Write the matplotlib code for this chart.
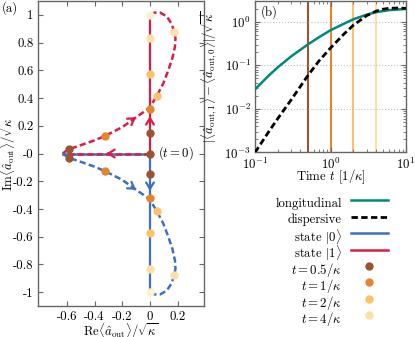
import numpy as np
import matplotlib
matplotlib.use('Agg')
import matplotlib.pyplot as plt
from matplotlib.lines import Line2D
from matplotlib.ticker import FuncFormatter

plt.rcParams['font.family'] = 'serif'
plt.rcParams['font.serif'] = ['cmr10']
plt.rcParams['mathtext.fontset'] = 'cm'
plt.rcParams['axes.unicode_minus'] = False
plt.rcParams['axes.formatter.use_mathtext'] = True
plt.rcParams['font.size'] = 9.2

# ---- (a) output field in the complex plane, state |1> (state |0> is mirrored)
long_im = [0.0, 0.15, 0.32, 0.57, 0.83, 1.0]
jump_re = [0.0, -0.63]
disp_re = [-0.63, -0.61, -0.584, -0.5, -0.4, -0.325, -0.2, -0.1, -0.03, 0.0, 0.048,
           0.096, 0.132, 0.161, 0.18, 0.184, 0.175, 0.156, 0.12, 0.072, 0.031, 0.0]
disp_im = [0.0, 0.015, 0.031, 0.06, 0.095, 0.127, 0.19, 0.262, 0.31, 0.335, 0.413,
           0.505, 0.6, 0.685, 0.77, 0.83, 0.877, 0.937, 0.99, 1.017, 1.016, 1.0]

# snapshots t = 0.5, 1, 2, 4 (in 1/kappa)
t_snap = [0.5, 1, 2, 4]
snap_colors = ['#9a5430', '#e5852e', '#fdc266', '#fee0a6']
end_color = '#fff0cb'
long_snap = [0.15, 0.32, 0.57, 0.83]
disp_snap_re = [-0.584, -0.325, 0.048, 0.175]
disp_snap_im = [0.031, 0.127, 0.413, 0.877]

# ---- (b) separation of the two pointer states vs time
t_long = [0.1, 0.15, 0.2, 0.3, 0.5, 0.7, 1, 1.5, 2, 3, 4, 6, 10]
sep_long = [0.028, 0.057, 0.09, 0.16, 0.30, 0.44, 0.64, 0.9, 1.14, 1.45, 1.66, 1.85, 1.97]
t_disp = [0.1, 0.15, 0.2, 0.3, 0.5, 0.7, 1, 1.5, 2, 3, 4, 5, 6, 8, 10]
sep_disp = [0.001, 0.0029, 0.006, 0.016, 0.058, 0.125, 0.25, 0.52, 0.83, 1.38, 1.75,
            1.95, 2.04, 2.07, 2.03]

teal = '#00897b'
blue = '#3f6fbe'
red = '#d91c4a'
spine_c = '0.4'

W, H = 415, 337
fig = plt.figure(figsize=(W / 100, H / 100), dpi=100)
ax = fig.add_axes([0.0923, 0.092, 0.3993, 0.905])
axb = fig.add_axes([0.6145, 0.5475, 0.3639, 0.4496])

dash = (2.5, 1.3)
disp_re = np.array(disp_re)
disp_im = np.array(disp_im)
long_im = np.array(long_im)

# common jump along the real axis
ax.plot(jump_re, [0, 0], color=blue, lw=1.8, zorder=2)
ax.plot(jump_re, [0, 0], color=red, lw=1.8, dashes=dash, zorder=2)
# longitudinal
ax.plot(np.zeros_like(long_im), long_im, color=red, lw=1.6, zorder=2)
ax.plot(np.zeros_like(long_im), -long_im, color=blue, lw=1.6, zorder=2)
# dispersive
ax.plot(disp_re, disp_im, color=red, lw=1.8, dashes=dash, zorder=2)
ax.plot(disp_re, -disp_im, color=blue, lw=1.8, dashes=dash, zorder=2)


def arrow(x, y, dx, dy, c):
    n = np.hypot(dx, dy)
    ax.annotate('', xy=(x, y), xytext=(x - 0.02 * dx / n, y - 0.02 * dy / n),
                arrowprops=dict(arrowstyle='->,head_length=0.45,head_width=0.28',
                                lw=1.6, color=c, shrinkA=0, shrinkB=0,
                                mutation_scale=10), zorder=4)


arrow(0.5 * jump_re[1], 0, -1, 0, red)
ya = long_im[1] + 0.7 * (long_im[2] - long_im[1])
arrow(0, ya, 0, 1, red)
arrow(0, -ya, 0, -1, blue)
k = 7
arrow(disp_re[k], disp_im[k], disp_re[k + 1] - disp_re[k], disp_im[k + 1] - disp_im[k], red)
arrow(disp_re[k], -disp_im[k], disp_re[k + 1] - disp_re[k], -(disp_im[k + 1] - disp_im[k]), blue)

ms = 6
ax.plot([0], [0], 'o', color=snap_colors[0], ms=ms, mec='none', zorder=5)
for i, c in enumerate(snap_colors):
    ax.plot([0, 0], [long_snap[i], -long_snap[i]], 'o', color=c, ms=ms, mec='none', zorder=5)
    ax.plot([disp_snap_re[i]] * 2, [disp_snap_im[i], -disp_snap_im[i]], 'o', color=c,
            ms=ms, mec='none', zorder=5)
ax.plot([0, 0], [long_im[-1], -long_im[-1]], 'o', color=end_color, ms=ms, mec='none', zorder=5)
ax.text(0.055, 0, r'$(t=0)$', ha='left', va='center')

ax.set_xlim(-0.806, 0.39)
ax.set_ylim(-1.1, 1.1)
ax.set_xticks([-0.6, -0.4, -0.2, 0, 0.2])
ax.set_yticks(np.round(np.arange(-1, 1.01, 0.2), 1))
fmt = FuncFormatter(lambda v, p: '%g' % v)
ax.xaxis.set_major_formatter(fmt)
ax.yaxis.set_major_formatter(fmt)
ax.tick_params(direction='in', top=True, right=True, length=3.5, width=0.8,
               color=spine_c, pad=3.5)
ax.set_xlabel(r'$\mathrm{Re}\langle\hat{a}_\mathrm{out}\rangle/\sqrt{\kappa}$')
ax.set_ylabel(r'$\mathrm{Im}\langle\hat{a}_\mathrm{out}\rangle/\sqrt{\kappa}$')
ax.xaxis.set_label_coords(0.5, -0.083)
ax.xaxis.label.set_va('center')
ax.yaxis.set_label_coords(-0.125, 0.5)

# ---- panel (b)
for t, c in zip(t_snap, snap_colors):
    axb.axvline(t, color=c, lw=1.5, zorder=1)
axb.plot(t_long, sep_long, color=teal, lw=1.8, zorder=3)
axb.plot(t_disp, sep_disp, color='k', lw=2.0, dashes=(2.3, 1.2), zorder=3)
axb.set_xscale('log')
axb.set_yscale('log')
axb.set_xlim(0.1, 10)
axb.set_ylim(1e-3, 3)
axb.yaxis.grid(True, which='major', ls=':', color='0.75', lw=0.8)
axb.tick_params(which='both', direction='in', top=True, right=True, color=spine_c)
axb.tick_params(which='major', length=3.5, width=0.8, pad=3)
axb.tick_params(which='minor', length=2, width=0.6)
axb.set_xlabel(r'Time $t$ $[1/\kappa]$')
axb.set_ylabel(r'$|\langle\hat{a}_{\mathrm{out},1}\rangle-\langle\hat{a}_{\mathrm{out},0}\rangle|/\sqrt{\kappa}$')
axb.xaxis.set_label_coords(0.5, -0.18)
axb.xaxis.label.set_va('baseline')
axb.yaxis.set_label_coords(-0.232, 0.5)
axb.text(0.04, 0.97, '(b)', transform=axb.transAxes, ha='left', va='top')

for a in (ax, axb):
    for s in a.spines.values():
        s.set_color(spine_c)
        s.set_linewidth(1.0)

fig.text(0.004, 0.976, '(a)', ha='left', va='center')

# ---- legend below panel (b): label on the left, key on the right
handles = [dict(color=teal, lw=1.8),
           dict(color='k', lw=2.0, dashes=(2.3, 1.2)),
           dict(color=blue, lw=1.8),
           dict(color=red, lw=1.8)]
labels = ['longitudinal', 'dispersive', r'state $|0\rangle$', r'state $|1\rangle$']
for t, c in zip(t_snap, snap_colors):
    handles.append(dict(ls='none', marker='o', ms=ms, color=c, mec='none'))
    labels.append(r'$t=%g/\kappa$' % t)

row0, row_step = 201.7, 16.4
text_right, key_left, key_right = 341.7, 351, 387.7
for i, (h, lab) in enumerate(zip(handles, labels)):
    yf = 1 - (row0 + i * row_step) / H
    fig.text(text_right / W, yf, lab, ha='right', va='center_baseline')
    if h.get('marker'):
        xs = [(key_left + key_right) / 2 / W]
    else:
        xs = [key_left / W, key_right / W]
    fig.add_artist(Line2D(xs, [yf + 0.004] * len(xs), transform=fig.transFigure, **h))

fig.savefig('out.png', dpi=100)
